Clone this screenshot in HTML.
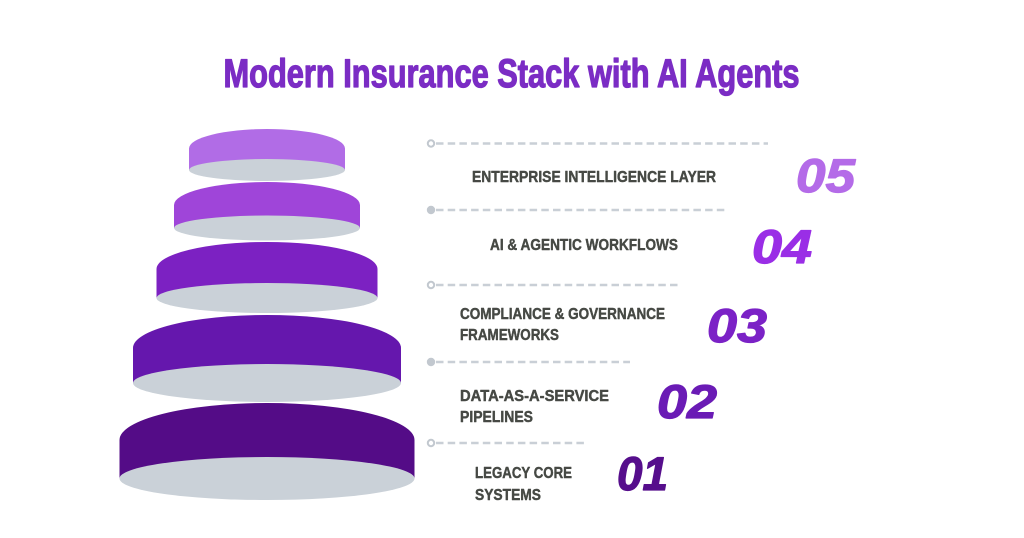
<!DOCTYPE html>
<html>
<head>
<meta charset="utf-8">
<style>
  html, body { margin: 0; padding: 0; background: #ffffff; }
  body { width: 1024px; height: 538px; overflow: hidden; }
  svg { display: block; }
</style>
</head>
<body>
<svg width="1024" height="538" viewBox="0 0 1024 538" xmlns="http://www.w3.org/2000/svg">
  <rect x="0" y="0" width="1024" height="538" fill="#ffffff"/>

  <!-- Title -->
  <text x="223.5" y="87" font-family="'Liberation Sans', sans-serif" font-weight="bold" font-size="40" fill="#7b2cc4" stroke="#7b2cc4" stroke-width="1.3" stroke-linejoin="round" textLength="576" lengthAdjust="spacingAndGlyphs">Modern Insurance Stack with AI Agents</text>

  <!-- Disc 1 (top) -->
  <path d="M189,148.5 A78,19.5 0 0 1 345,148.5 L345,170 L189,170 Z" fill="#b16ce6"/>
  <ellipse cx="267" cy="170" rx="78" ry="11" fill="#cad1d8"/>

  <!-- Disc 2 -->
  <path d="M174,205 A93,23 0 0 1 360,205 L360,228 L174,228 Z" fill="#9f45d9"/>
  <ellipse cx="267" cy="228" rx="93" ry="12.5" fill="#cad1d8"/>

  <!-- Disc 3 -->
  <path d="M156.5,269 A110.5,27 0 0 1 377.5,269 L377.5,298 L156.5,298 Z" fill="#7c21c2"/>
  <ellipse cx="267" cy="298" rx="110.5" ry="15" fill="#cad1d8"/>

  <!-- Disc 4 -->
  <path d="M133,348 A134,33 0 0 1 401,348 L401,383 L133,383 Z" fill="#6517ad"/>
  <ellipse cx="267" cy="383" rx="134" ry="19" fill="#cad1d8"/>

  <!-- Disc 5 (bottom) -->
  <path d="M119.5,440 A147.5,37 0 0 1 414.5,440 L414.5,478.5 L119.5,478.5 Z" fill="#540c87"/>
  <ellipse cx="267" cy="478.5" rx="147.5" ry="21.5" fill="#cad1d8"/>

  <!-- Connectors -->
  <g stroke="#c9cfd6" stroke-width="2.4" stroke-dasharray="7.5 4.2" fill="none">
    <line x1="436" y1="143.5" x2="768" y2="143.5"/>
    <line x1="436" y1="210" x2="726" y2="210"/>
    <line x1="436" y1="285" x2="680" y2="285"/>
    <line x1="436" y1="362" x2="630" y2="362"/>
    <line x1="436" y1="443" x2="586" y2="443"/>
  </g>
  <g>
    <circle cx="431" cy="143.5" r="3.2" fill="#ffffff" stroke="#c2c8cf" stroke-width="2"/>
    <circle cx="431" cy="210" r="4.2" fill="#c2c8cf"/>
    <circle cx="431" cy="285" r="3.2" fill="#ffffff" stroke="#c2c8cf" stroke-width="2"/>
    <circle cx="431" cy="362" r="4.2" fill="#c2c8cf"/>
    <circle cx="431" cy="443" r="3.2" fill="#ffffff" stroke="#c2c8cf" stroke-width="2"/>
  </g>

  <!-- Labels -->
  <g font-family="'Liberation Sans', sans-serif" font-weight="bold" font-size="15.5" fill="#464944" stroke="#464944" stroke-width="0.45" stroke-linejoin="round">
    <text x="472" y="182" textLength="244" lengthAdjust="spacingAndGlyphs">ENTERPRISE INTELLIGENCE LAYER</text>
    <text x="490" y="250" textLength="188" lengthAdjust="spacingAndGlyphs">AI &amp; AGENTIC WORKFLOWS</text>
    <text x="460" y="319" textLength="205" lengthAdjust="spacingAndGlyphs">COMPLIANCE &amp; GOVERNANCE</text>
    <text x="460" y="340" textLength="99" lengthAdjust="spacingAndGlyphs">FRAMEWORKS</text>
    <text x="460" y="401" textLength="149" lengthAdjust="spacingAndGlyphs">DATA-AS-A-SERVICE</text>
    <text x="460" y="422" textLength="73" lengthAdjust="spacingAndGlyphs">PIPELINES</text>
    <text x="475" y="478" textLength="97" lengthAdjust="spacingAndGlyphs">LEGACY CORE</text>
    <text x="475" y="500" textLength="66" lengthAdjust="spacingAndGlyphs">SYSTEMS</text>
  </g>

  <!-- Numbers -->
  <g font-family="'Liberation Sans', sans-serif" font-weight="bold" font-style="italic" font-size="47" stroke-width="1.2" stroke-linejoin="round">
    <text x="796" y="192" fill="#b46be8" stroke="#b46be8" textLength="59" lengthAdjust="spacingAndGlyphs">05</text>
    <text x="752" y="263" fill="#9a2ee6" stroke="#9a2ee6" textLength="60" lengthAdjust="spacingAndGlyphs">04</text>
    <text x="707" y="342" fill="#7b22c6" stroke="#7b22c6" textLength="60" lengthAdjust="spacingAndGlyphs">03</text>
    <text x="657" y="418" fill="#6a1bb5" stroke="#6a1bb5" textLength="60" lengthAdjust="spacingAndGlyphs">02</text>
    <text x="617" y="490" fill="#560e8c" stroke="#560e8c" textLength="51" lengthAdjust="spacingAndGlyphs">01</text>
  </g>
</svg>
</body>
</html>
